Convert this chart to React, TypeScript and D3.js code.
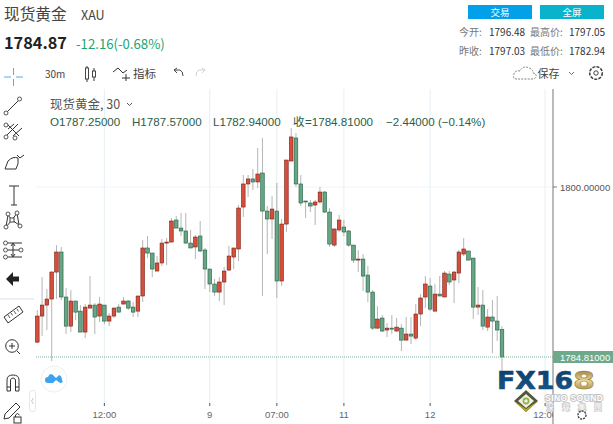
import React from "react";
import * as d3 from "d3";

const WIDTH = 613;
const HEIGHT = 424;

// one entry per 30m candle
const opens = [
  1786.14, 1788.47, 1789.45, 1789.99, 1792.4, 1794.19, 1790.17, 1787.57, 1789.81, 1788.91,
  1787.04, 1789.18, 1789.45, 1788.47, 1789.45, 1788.02, 1788.47, 1789.27, 1789.54, 1789.81,
  1789.27, 1788.91, 1790.26, 1794.55, 1794.1, 1792.49, 1793.21, 1794.99, 1795.08, 1797.05,
  1796.33, 1796.07, 1794.99, 1794.64, 1795.62, 1794.37, 1792.67, 1791.33, 1790.61, 1791.51,
  1792.58, 1793.74, 1794.46, 1798.21, 1800.27, 1800.72, 1800.45, 1801.25, 1797.85, 1797.14,
  1797.85, 1791.6, 1796.69, 1802.32, 1804.38, 1800.27, 1798.75, 1798.57, 1798.39, 1798.66,
  1799.55, 1797.76, 1794.81, 1796.16, 1796.42, 1796.07, 1794.81, 1793.47, 1793.56, 1792.13,
  1790.61, 1787.39, 1788.29, 1787.22, 1787.39, 1787.13, 1787.39, 1786.32, 1786.86, 1786.5,
  1788.65, 1790.17, 1791.15, 1788.91, 1790.43, 1790.17, 1792.22, 1791.69, 1792.31, 1794.01,
  1794.28, 1793.65, 1789.27, 1789.45, 1787.48, 1788.38, 1788.02, 1787.25,
];
const highs = [
  1789.0, 1791.95, 1790.88, 1792.49, 1794.81, 1794.64, 1790.97, 1790.79, 1789.81, 1789.45,
  1789.54, 1792.04, 1789.63, 1790.17, 1789.45, 1788.74, 1789.27, 1789.54, 1790.17, 1789.9,
  1789.72, 1790.26, 1795.26, 1795.62, 1794.1, 1793.83, 1795.35, 1795.44, 1797.23, 1797.41,
  1797.68, 1797.68, 1796.16, 1795.71, 1796.96, 1794.55, 1792.67, 1791.78, 1791.95, 1792.85,
  1794.73, 1794.55, 1798.39, 1801.07, 1801.07, 1801.61, 1803.49, 1804.38, 1798.3, 1799.2,
  1800.36, 1797.14, 1802.41, 1805.27, 1804.83, 1801.07, 1798.75, 1798.84, 1798.84, 1800.0,
  1799.64, 1798.12, 1796.25, 1797.5, 1797.05, 1796.16, 1794.81, 1794.37, 1794.01, 1792.94,
  1790.79, 1789.36, 1788.56, 1787.84, 1788.56, 1788.29, 1787.75, 1788.38, 1788.38, 1789.54,
  1790.43, 1792.04, 1791.86, 1791.33, 1792.04, 1792.49, 1792.49, 1792.49, 1794.37, 1795.44,
  1794.28, 1793.65, 1791.06, 1790.79, 1789.09, 1789.9, 1790.26, 1787.57,
];
const lows = [
  1786.05, 1786.68, 1787.22, 1784.44, 1789.99, 1789.9, 1786.86, 1787.04, 1788.11, 1787.04,
  1786.5, 1789.18, 1786.86, 1787.93, 1787.75, 1787.57, 1788.29, 1788.82, 1789.54, 1789.0,
  1788.38, 1788.38, 1789.72, 1793.65, 1791.95, 1792.49, 1792.94, 1793.03, 1795.08, 1796.33,
  1795.62, 1794.9, 1794.55, 1793.56, 1794.19, 1790.88, 1790.61, 1790.26, 1789.81, 1789.45,
  1792.49, 1792.67, 1793.38, 1797.32, 1799.11, 1799.73, 1799.91, 1790.26, 1794.01, 1795.35,
  1790.08, 1791.15, 1795.98, 1802.32, 1800.0, 1798.3, 1797.23, 1797.76, 1796.6, 1798.48,
  1797.68, 1794.64, 1794.64, 1795.98, 1795.62, 1794.64, 1793.21, 1792.4, 1790.7, 1789.72,
  1787.22, 1787.31, 1787.04, 1786.59, 1786.86, 1787.04, 1785.34, 1786.32, 1785.96, 1786.32,
  1787.57, 1789.18, 1788.91, 1788.91, 1790.26, 1790.17, 1791.24, 1789.63, 1791.42, 1793.83,
  1793.47, 1788.2, 1788.56, 1787.22, 1787.13, 1785.16, 1786.23, 1782.94,
];
const closes = [
  1788.47, 1789.45, 1789.99, 1792.4, 1794.19, 1790.17, 1787.57, 1789.81, 1788.82, 1787.04,
  1789.27, 1789.45, 1788.38, 1789.54, 1788.02, 1788.47, 1789.18, 1788.82, 1789.81, 1789.18,
  1788.82, 1790.26, 1794.55, 1794.1, 1792.67, 1793.21, 1794.99, 1795.08, 1796.96, 1796.33,
  1796.07, 1794.99, 1794.55, 1795.53, 1794.28, 1792.67, 1791.33, 1790.61, 1791.51, 1792.49,
  1793.83, 1794.55, 1798.12, 1800.27, 1800.72, 1800.45, 1801.16, 1797.85, 1797.14, 1798.03,
  1791.6, 1796.69, 1802.41, 1804.47, 1800.27, 1798.57, 1798.66, 1798.3, 1798.66, 1799.55,
  1797.76, 1794.9, 1796.25, 1797.05, 1795.98, 1794.81, 1793.47, 1793.56, 1792.04, 1790.61,
  1787.39, 1788.2, 1787.13, 1787.39, 1787.31, 1787.48, 1786.32, 1786.86, 1786.68, 1788.65,
  1790.08, 1791.33, 1789.09, 1790.43, 1790.26, 1792.31, 1791.51, 1792.4, 1794.19, 1794.46,
  1793.47, 1789.27, 1789.45, 1787.57, 1788.38, 1788.02, 1787.22, 1784.81,
];

const timeTicks = [14, 36, 50, 64, 82, 106];
const timeLabels = ["12:00", "9", "07:00", "11", "12", "12:00"];
const priceTicks = [1800];
const lastPrice = 1784.81;

const tools = ["交易", "全屏"];
const statRows = [
  ["今开:", "1796.48", "最高价:", "1797.05"],
  ["昨收:", "1797.03", "最低价:", "1782.94"],
];
const groupName = ["深", "聲", "集", "團"];

const UI_FONT = "'Noto Sans CJK SC', 'Open Sans', sans-serif";
const CHART_FONT = "'Liberation Sans', sans-serif";
const UP = "#d5503c";
const UP_EDGE = "#7c1c12";
const DOWN = "#68a585";
const DOWN_EDGE = "#1f5f40";
const GRID = "#e6eff4";

const x = d3.scaleLinear().domain([0, 97]).range([37.3, 502]);
const y = d3.scaleLinear().domain([1800, lastPrice]).range([187, 357]);

const Icon = ({ d, sw = 1, stroke = "#333" }: { d: string; sw?: number; stroke?: string }) => (
  <path d={d} fill="none" stroke={stroke} strokeWidth={sw} />
);

const Hole = ({ cx, cy, r = 2 }: { cx: number; cy: number; r?: number }) => (
  <circle cx={cx} cy={cy} r={r} fill="#fff" stroke="#444" strokeWidth={0.9} />
);

export default function App() {
  const candles = opens.map((o, i) => ({ i, o, h: highs[i], l: lows[i], c: closes[i] }));

  return (
    <svg
      width={WIDTH}
      height={HEIGHT}
      viewBox={`0 0 ${WIDTH} ${HEIGHT}`}
      style={{ position: "absolute", left: 0, top: 0, background: "#fff" }}
    >
      <defs>
        <clipPath id="plot">
          <rect x={0} y={0} width={553} height={HEIGHT} />
        </clipPath>
        <linearGradient id="gold" x1="0" x2="0" y1="0" y2="1">
          <stop offset="0" stopColor="#7a6128" />
          <stop offset="0.5" stopColor="#e8d59a" />
          <stop offset="1" stopColor="#8a6c2a" />
        </linearGradient>
        <linearGradient id="navy" x1="0" x2="0" y1="0" y2="1">
          <stop offset="0" stopColor="#0e3a66" />
          <stop offset="1" stopColor="#185c8e" />
        </linearGradient>
      </defs>

      {/* header */}
      <text x={4} y={20} fontFamily={UI_FONT} fontSize={15.7} fill="#444">现货黄金</text>
      <text x={81} y={20} fontFamily={UI_FONT} fontSize={12.5} fill="#444">XAU</text>
      <text x={4} y={49} fontFamily={UI_FONT} fontSize={16.3} fontWeight={700} fill="#222">1784.87</text>
      <text x={76} y={49} fontFamily={UI_FONT} fontSize={13.2} fill="#17a773">-12.16(-0.68%)</text>

      {tools.map((t, i) => (
        <g key={t}>
          <rect x={468 + i * 72} y={5} width={64} height={14} fill={i ? "#08b3cb" : "#03a0ea"} />
          <text x={500 + i * 72} y={16} textAnchor="middle" fontFamily={UI_FONT} fontSize={9.5} fill="#fff">{t}</text>
        </g>
      ))}
      {statRows.map((row, r) => (
        <g key={r} fontFamily={UI_FONT} fontSize={10}>
          <text x={459} y={36 + r * 19} fill="#777">{row[0]}</text>
          <text x={489} y={36 + r * 19} fill="#333">{row[1]}</text>
          <text x={530} y={36 + r * 19} fill="#777">{row[2]}</text>
          <text x={569} y={36 + r * 19} fill="#333">{row[3]}</text>
        </g>
      ))}

      {/* top toolbar */}
      <Icon d="M4 77H11 M16 77H23 M13.5 68V75 M13.5 79V86" stroke="#5aa9e6" />
      <text x={45} y={78} fontFamily={UI_FONT} fontSize={10} fill="#444">30m</text>
      <Icon d="M87 66V82 M94 68V81" />
      <rect x={85.5} y={68} width={3} height={11} fill="#fff" stroke="#333" strokeWidth={0.9} />
      <rect x={92.5} y={71} width={3} height={6} fill="#fff" stroke="#333" strokeWidth={0.9} />
      <Icon d="M113 72L118 68L123 73L127 70 M122 78H130 M126 74V81" />
      <text x={133} y={78} fontFamily={UI_FONT} fontSize={11.5} fill="#444">指标</text>
      <Icon d="M174 70L177 68 M174 70L177 73 M174 70H180Q183 71 183 76" sw={0.9} />
      <Icon d="M205 70L202 68 M205 70L202 73 M205 70H199Q196 71 196 76" sw={0.9} stroke="#ccc" />
      <path d="M517 79Q512 79 514 74Q515 70 520 71Q523 65 529 68Q533 69 533 73Q537 74 536 77Q535 79 532 79Z" fill="none" stroke="#777" strokeWidth={0.9} strokeDasharray="2 1.2" />
      <text x={537.5} y={78} fontFamily={UI_FONT} fontSize={11} fill="#444">保存</text>
      <Icon d="M569 72L571.5 74.5L574 72" sw={0.7} />
      <circle cx={596} cy={73} r={6.3} fill="none" stroke="#444" strokeWidth={1.6} strokeDasharray="3 1.2" />
      <circle cx={596} cy={73} r={2.2} fill="none" stroke="#444" />

      {/* grid */}
      {timeTicks.map((t) => (
        <line key={t} x1={x(t)} x2={x(t)} y1={89} y2={403} stroke={GRID} />
      ))}
      {priceTicks.map((p) => (
        <line key={p} x1={36} x2={553} y1={y(p)} y2={y(p)} stroke="#f0f4f8" />
      ))}

      {/* candles */}
      {candles.map((d) => (
        <line key={d.i} x1={x(d.i)} x2={x(d.i)} y1={y(d.h)} y2={y(d.l)} stroke="#808080" strokeWidth={0.9} strokeOpacity={0.65} />
      ))}
      {candles.map((d) => {
        const up = d.c >= d.o;
        const top = y(Math.max(d.o, d.c));
        const h = Math.max(1, Math.abs(y(d.o) - y(d.c)));
        return (
          <rect
            key={d.i}
            x={x(d.i) - 1.8}
            y={top}
            width={3.6}
            height={h}
            fill={up ? UP : DOWN}
            stroke={up ? UP_EDGE : DOWN_EDGE}
            strokeWidth={0.6}
          />
        );
      })}

      {/* last price */}
      <line x1={36} x2={553} y1={y(lastPrice)} y2={y(lastPrice)} stroke="#7fb79b" strokeDasharray="1 1" />

      {/* axes */}
      <line x1={553} x2={553} y1={89} y2={424} stroke="#777" />
      {priceTicks.map((p) => (
        <g key={p}>
          <line x1={553} x2={557} y1={y(p)} y2={y(p)} stroke="#777" />
          <text x={560} y={y(p) + 3.5} fontFamily={CHART_FONT} fontSize={9.5} fill="#555">1800.00000</text>
        </g>
      ))}
      <rect x={553} y={y(lastPrice) - 6} width={60} height={12} fill="#6da98a" />
      <text x={560} y={y(lastPrice) + 3.5} fontFamily={CHART_FONT} fontSize={9.5} fill="#fff">{lastPrice.toFixed(5)}</text>

      {/* legend */}
      <text x={50} y={109} fontFamily={UI_FONT} fontSize={12.5} fill="#555">现货黄金, 30</text>
      <Icon d="M127 103L129.5 105.5L132 103" stroke="#555" />
      <g fontFamily={CHART_FONT} fontSize={11.6} fill="#2c5d47">
        <text x={50} y={126}>O1787.25000</text>
        <text x={132} y={126}>H1787.57000</text>
        <text x={213} y={126}>L1782.94000</text>
        <text x={293} y={126} fontFamily={UI_FONT}>收</text>
        <text x={305} y={126}>=1784.81000</text>
        <text x={386} y={126}>−2.44000 (−0.14%)</text>
      </g>

      {/* left drawing tools */}
      <Icon d="M7 112L18 101" />
      <Hole cx={6} cy={113} />
      <Hole cx={19.5} cy={99} />
      <Icon d="M7 124L13 130L19 136 M7 135L18 124 M13 136L22 128 M8 129L14 124" />
      <Hole cx={6} cy={125} />
      <Hole cx={6} cy={137} />
      <Hole cx={15} cy={138} />
      <Icon d="M5 169L8 161Q13 156 18 158Q19 164 16 169Z M17 155L20 158L24 155" />
      <Icon d="M9 186H19 M14 186V205 M11 205H17" sw={1} />
      <Icon d="M8 215L6 227L12 220L19 225L17 213L12 220 M8 215L12 220" />
      <Hole cx={8} cy={214} />
      <Hole cx={17} cy={213} />
      <Hole cx={6} cy={227} />
      <Hole cx={20} cy={226} />
      <rect x={10} y={218} width={4} height={4} fill="#fff" stroke="#444" />
      <Icon d="M8 243H22 M8 250H19 M8 257H22 M13 244V256 M11 246L13 243L15 246 M11 254L13 257L15 254" />
      <Hole cx={5.5} cy={243} />
      <Hole cx={5.5} cy={250} />
      <Hole cx={21} cy={250} />
      <Hole cx={5.5} cy={257} />
      <path d="M6 279L13 272V276.5H19V281.5H13V286Z" fill="#222" />
      <line x1={0} x2={34} y1={299} y2={299} stroke="#dde" />
      <path d="M4 317L19 306L23 312L8 323Z" fill="none" stroke="#333" />
      <Icon d="M8 315L10 318 M11 313L12.5 315.5 M14 311L16 314 M17 309L18.5 311.5" sw={0.8} />
      <circle cx={12} cy={346} r={6.3} fill="none" stroke="#333" />
      <Icon d="M9 346H15 M12 343V349 M17 351L20 354" />
      <Icon d="M7 391V380Q7 375 13 375Q19 375 19 380V391H15.5V380Q15 378 13 378Q11 378 10.5 380V391Z M7 387H10.5 M15.5 387H19" />
      <path d="M5 414L16 403L20 407L9 418L4 419Z" fill="none" stroke="#333" />
      <rect x={14} y={417} width={7} height={6} fill="#fff" stroke="#333" />
      <Icon d="M15.5 417V415Q17.5 412 19.5 415" />

      {/* collapse handle and watermark */}
      <rect x={29.5} y={390.5} width={6} height={21} rx={2.5} fill="#fff" stroke="#e4e8ee" />
      <Icon d="M33.5 398L31.5 401L33.5 404" stroke="#bbb" sw={0.8} />
      <circle cx={54} cy={379} r={13} fill="#fff" stroke="#eceff3" />
      <path d="M48 383Q45 383 45 380Q45 377 48 377Q50 372 53 375L56 378L59 375Q62 376 62 380Q64 383 60 383L56 380L53 383Z" fill="#3ba3ef" />

      {/* FX168 logo */}
      <text x={497} y={389} fontFamily="'DejaVu Sans', sans-serif" fontWeight={700} fontSize={25} textLength={76} lengthAdjust="spacingAndGlyphs" fill="url(#navy)" stroke="#14466f" strokeWidth={0.6}>FX16</text>
      <text x={573} y={389} fontFamily="'DejaVu Sans', sans-serif" fontWeight={700} fontSize={25} textLength={22} lengthAdjust="spacingAndGlyphs" fill="url(#gold)" stroke="#9a7d3a" strokeWidth={0.6}>8</text>
      <path d="M526 390L538 401L526 412L514 401Z" fill="#55553a" />
      <path d="M526 394L534 401L526 408L518 401Z" fill="#eef0e2" />
      <path d="M514 401L526 412L538 401L526 409Z" fill="#b8a52e" />
      <circle cx={526} cy={401} r={2.6} fill="none" stroke="#8fb04a" strokeWidth={1.6} />

      {/* time axis, the last label runs into the price axis */}
      <g clipPath="url(#plot)">
        {timeTicks.map((t, i) => (
          <g key={t}>
            <line x1={x(t)} x2={x(t)} y1={403} y2={406} stroke="#555" />
            <text x={x(t)} y={418} textAnchor="middle" fontFamily={CHART_FONT} fontSize={9.5} fill="#666">{timeLabels[i]}</text>
          </g>
        ))}
      </g>

      <text x={545} y={400.5} fontFamily={CHART_FONT} fontWeight={700} fontSize={8.5} textLength={58} fill="#fff" stroke="#c4c4c4" strokeWidth={1.8} paintOrder="stroke">SINO SOUND</text>
      {groupName.map((g, i) => (
        <text key={g} x={550 + i * 16} y={410} textAnchor="middle" fontFamily={UI_FONT} fontSize={7.5} fill="#fff" stroke="#c4c4c4" strokeWidth={1.4} paintOrder="stroke">{g}</text>
      ))}
      {/* small gear under the logo */}
      <circle cx={582} cy={415} r={4} fill="none" stroke="#444" strokeWidth={1.4} strokeDasharray="2 1" />
    </svg>
  );
}
